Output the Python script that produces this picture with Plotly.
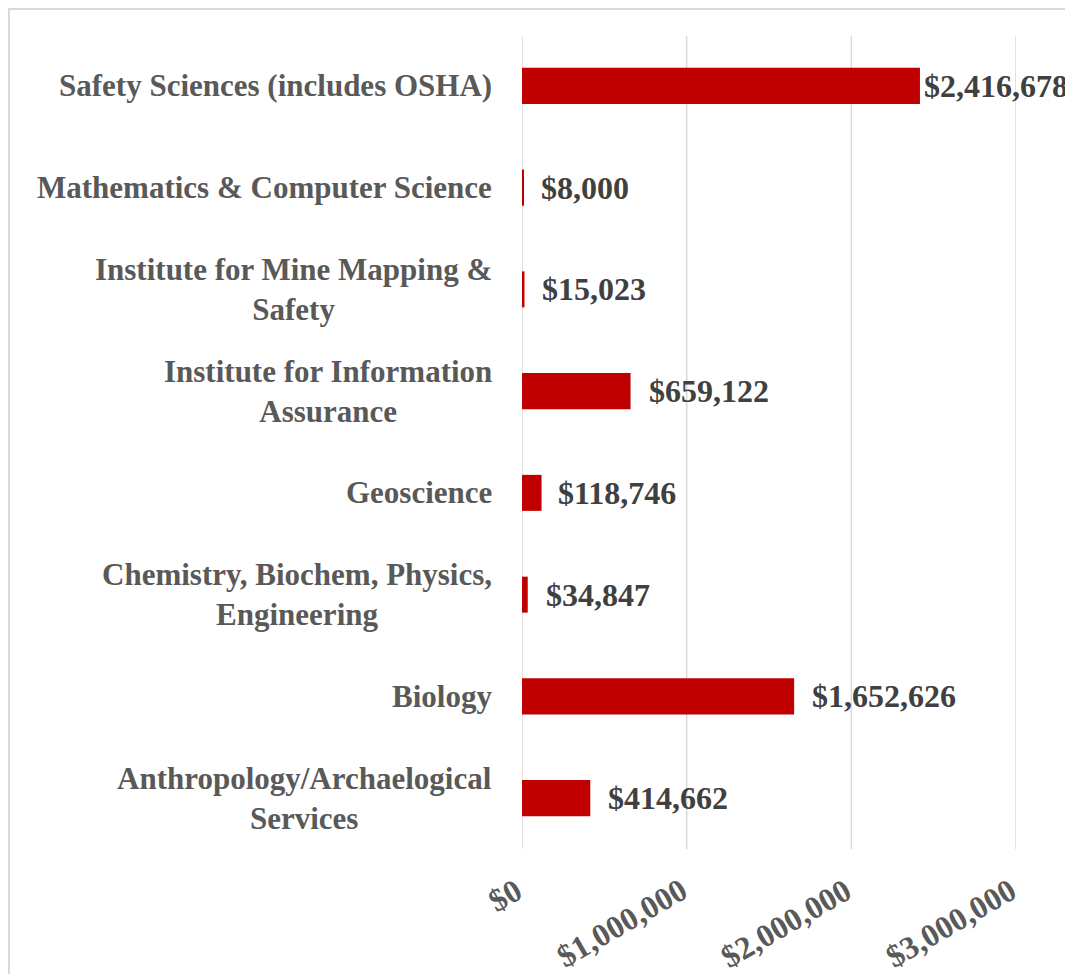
import plotly.graph_objects as go

categories = [
    "Anthropology/Archaelogical<br>Services",
    "Biology",
    "Chemistry, Biochem, Physics,<br>Engineering",
    "Geoscience",
    "Institute for Information<br>Assurance",
    "Institute for Mine Mapping &<br>Safety",
    "Mathematics & Computer Science",
    "Safety Sciences (includes OSHA)",
]
values = [414662, 1652626, 34847, 118746, 659122, 15023, 8000, 2416678]
tick_vals = [0, 1000000, 2000000, 3000000]
tick_text = ["$0", "$1,000,000", "$2,000,000", "$3,000,000"]
label_shift = [16, 16, 16, 14, 16, 16, 16, 2]

SERIF = "Liberation Serif, Times New Roman, serif"

# plot area in page pixels (figure is placed at 8,8)
PX_L, PX_R, PX_T, PX_B = 522, 1016, 35, 849
PW, PH = PX_R - PX_L, PX_B - PX_T

fig = go.Figure()

# gridlines
for tv in tick_vals:
    fig.add_shape(type="line", xref="x", yref="paper", x0=tv, x1=tv,
                  y0=0, y1=(PX_B - 36) / PH,
                  line=dict(color="#D9D9D9", width=1.5), layer="below")

fig.add_trace(go.Bar(
    y=categories, x=values, orientation="h",
    marker=dict(color="#C00000", line=dict(width=0)),
    width=0.354, hoverinfo="skip",
))

for c, v, s in zip(categories, values, label_shift):
    fig.add_annotation(x=v, y=c, xref="x", yref="y", text=f"<b>${v:,.0f}</b>",
                       showarrow=False, xanchor="left", yanchor="middle", xshift=s,
                       font=dict(family=SERIF, size=32, color="#404040"))
    fig.add_annotation(x=0, y=c, xref="paper", yref="y", text=f"<b>{c}</b>",
                       showarrow=False, xanchor="right", yanchor="middle", xshift=-28,
                       align="center",
                       font=dict(family=SERIF, size=31, color="#595959"))

# rotated x tick labels
for tv, tt in zip(tick_vals, tick_text):
    fig.add_annotation(x=tv, y=0, xref="x", yref="paper", text=f"<b>{tt}</b>",
                       showarrow=False, xanchor="right", yanchor="top", textangle=-30,
                       xshift=9, yshift=-20,
                       font=dict(family=SERIF, size=32, color="#595959"))

fig.add_shape(type="rect", xref="paper", yref="paper",
              x0=(9 - PX_L) / PW, x1=(1090 - PX_L) / PW,
              y0=(PX_B - 1000) / PH, y1=(PX_B - 9) / PH,
              line=dict(color="#D9D9D9", width=2), fillcolor="rgba(0,0,0,0)", layer="below")

fig.update_layout(
    width=1065, height=966,
    margin=dict(l=PX_L - 8, r=1073 - PX_R, t=PX_T - 8, b=974 - PX_B),
    paper_bgcolor="white", plot_bgcolor="white",
    showlegend=False,
    xaxis=dict(range=[0, 3000000], showticklabels=False, showgrid=False,
               zeroline=False, showline=False, ticks="", fixedrange=True),
    yaxis=dict(categoryorder="array", categoryarray=categories, showticklabels=False,
               showgrid=False, zeroline=False, showline=False, ticks="", fixedrange=True),
)

fig.write_html("out.html")
